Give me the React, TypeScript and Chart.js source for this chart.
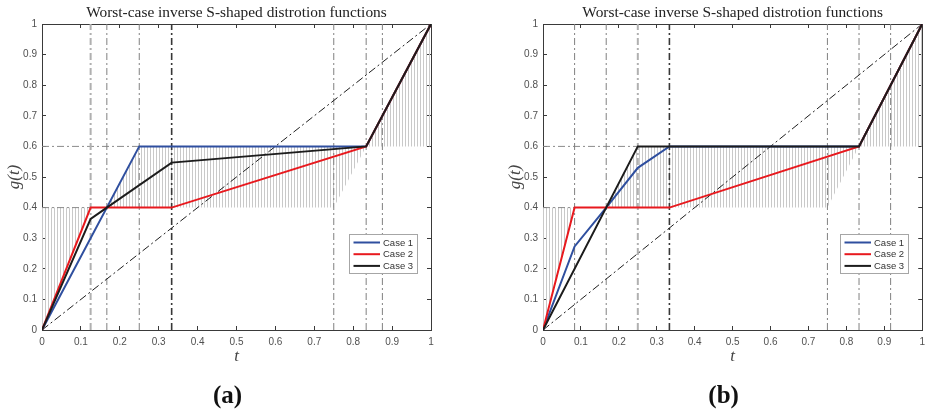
import React, { useEffect, useRef } from 'react';
import { Chart, registerables } from 'chart.js';

Chart.register(...registerables);

type Pt = [number, number];

// ---------- text ----------
const TITLE = 'Worst-case inverse S-shaped distrotion functions';
const X_LABEL = 't';
const Y_LABEL = 'g(t)';
const PANEL_LETTERS = ['(a)', '(b)'];
const CASE_LABELS = ['Case 1', 'Case 2', 'Case 3'];

// ---------- ticks ----------
const TICK_VALUES = [0, 0.1, 0.2, 0.3, 0.4, 0.5, 0.6, 0.7, 0.8, 0.9, 1];
const TICK_LABELS = ['0', '0.1', '0.2', '0.3', '0.4', '0.5', '0.6', '0.7', '0.8', '0.9', '1'];

// ---------- panel (a) ----------
const A_CASE1: Pt[] = [[0, 0], [0.25, 0.6], [5 / 6, 0.6], [1, 1]];
const A_CASE2: Pt[] = [[0, 0], [0.125, 0.4], [1 / 3, 0.4], [5 / 6, 0.6], [1, 1]];
const A_CASE3: Pt[] = [[0, 0], [0.125, 0.363], [1 / 6, 0.4], [1 / 3, 0.547], [5 / 6, 0.6], [1, 1]];
const A_VLINES = [0.125, 1 / 6, 0.25, 1 / 3, 0.75, 5 / 6, 0.875];
const A_HLINES: Pt[] = [[0.4, 0.125], [0.6, 0.25]]; // [level, end t]
const A_HATCH_UPPER: Pt[][] = [
  [[0, 0.4], [0.125, 0.4]],
  [[1 / 6, 0.4], [0.25, 0.6], [5 / 6, 0.6]],
  [[5 / 6, 0.6], [1, 1]],
];
const A_HATCH_LOWER: Pt[][] = [
  [[0, 0], [0.125, 0.4]],
  [[1 / 6, 0.4], [0.75, 0.4], [5 / 6, 0.6]],
  [[5 / 6, 0.6], [1, 0.6]],
];

// ---------- panel (b) ----------
const B_CASE1: Pt[] = [[0, 0], [1 / 12, 0.273], [1 / 6, 0.4], [0.25, 0.53], [1 / 3, 0.6], [5 / 6, 0.6], [1, 1]];
const B_CASE2: Pt[] = [[0, 0], [1 / 12, 0.4], [1 / 3, 0.4], [5 / 6, 0.6], [1, 1]];
const B_CASE3: Pt[] = [[0, 0], [0.25, 0.6], [5 / 6, 0.6], [1, 1]];
const B_VLINES = [1 / 12, 1 / 6, 0.25, 1 / 3, 0.75, 5 / 6, 11 / 12];
const B_HLINES: Pt[] = [[0.4, 1 / 12], [0.6, 0.25]];
const B_HATCH_UPPER: Pt[][] = [
  [[0, 0.4], [1 / 12, 0.4]],
  [[1 / 6, 0.4], [0.25, 0.6], [5 / 6, 0.6]],
  [[5 / 6, 0.6], [1, 1]],
];
const B_HATCH_LOWER: Pt[][] = [
  [[0, 0], [1 / 12, 0.4]],
  [[1 / 6, 0.4], [0.75, 0.4], [5 / 6, 0.6]],
  [[5 / 6, 0.6], [1, 0.6]],
];

const DIAGONAL: Pt[] = [[0, 0], [1, 1]];

// ---------- styles ----------
const CASE_COLORS = ['#2f4f9f', '#e8191e', '#1c1c1c'];
const AXIS_COLOR = '#3a3a3a';
const TICK_COLOR = '#505050';
const HATCH_COLOR = '#c9c9c9';
const VSTYLE: Record<string, { color: string; width: number }> = {
  light: { color: '#b0b0b0', width: 2 },
  mid: { color: '#808080', width: 1 },
  dark: { color: '#383838', width: 1.6 },
};
const A_VSTYLE = ['light', 'mid', 'mid', 'dark', 'mid', 'mid', 'mid'];
const B_VSTYLE = ['mid', 'mid', 'light', 'dark', 'mid', 'mid', 'mid'];
const DASH_DOT = [7, 3, 2, 3];

interface Panel {
  cases: Pt[][];
  vlines: number[];
  vstyle: string[];
  hlines: Pt[];
  hatchUpper: Pt[][];
  hatchLower: Pt[][];
  letter: string;
  canvasWidth: number;
  leftW: number;
  rightW: number;
}

const PANELS: Panel[] = [
  {
    cases: [A_CASE1, A_CASE2, A_CASE3], vlines: A_VLINES, vstyle: A_VSTYLE, hlines: A_HLINES,
    hatchUpper: A_HATCH_UPPER, hatchLower: A_HATCH_LOWER, letter: PANEL_LETTERS[0],
    canvasWidth: 465, leftW: 42, rightW: 34,
  },
  {
    cases: [B_CASE1, B_CASE2, B_CASE3], vlines: B_VLINES, vstyle: B_VSTYLE, hlines: B_HLINES,
    hatchUpper: B_HATCH_UPPER, hatchLower: B_HATCH_LOWER, letter: PANEL_LETTERS[1],
    canvasWidth: 466, leftW: 78, rightW: 1,
  },
];

const CANVAS_H = 414;
const TOP_H = 24;
const BOTTOM_H = 84;

const toXY = (pts: Pt[]) => pts.map(([x, y]) => ({ x, y }));

function makePattern(): CanvasPattern | string {
  const c = document.createElement('canvas');
  c.width = 3;
  c.height = 4;
  const g = c.getContext('2d');
  if (!g) return HATCH_COLOR;
  g.fillStyle = HATCH_COLOR;
  g.fillRect(0, 0, 1, 4);
  const p = g.createPattern(c, 'repeat');
  return p || HATCH_COLOR;
}

function buildDatasets(p: Panel, pattern: CanvasPattern | string) {
  const ds: any[] = [];
  const base = { pointRadius: 0, pointHoverRadius: 0, tension: 0 };
  p.hatchLower.forEach((lower, i) => {
    const lowerIndex = ds.length;
    ds.push({ ...base, data: toXY(lower), borderWidth: 0, borderColor: 'rgba(0,0,0,0)', fill: false, order: 100 });
    ds.push({
      ...base, data: toXY(p.hatchUpper[i]), borderWidth: 0, borderColor: 'rgba(0,0,0,0)',
      fill: { target: lowerIndex }, backgroundColor: pattern, order: 100,
    });
  });
  p.hlines.forEach(([level, end]) => {
    ds.push({ ...base, data: toXY([[0, level], [end, level]]), borderColor: '#8a8a8a', borderWidth: 1, borderDash: DASH_DOT, fill: false, order: 60 });
  });
  p.vlines.forEach((t, i) => {
    const st = VSTYLE[p.vstyle[i]];
    ds.push({ ...base, data: toXY([[t, 0], [t, 1]]), borderColor: st.color, borderWidth: st.width, borderDash: DASH_DOT, fill: false, order: 55 });
  });
  ds.push({ ...base, data: toXY(DIAGONAL), borderColor: '#1e1e1e', borderWidth: 1, borderDash: [8, 3, 2, 3], fill: false, order: 50 });
  p.cases.forEach((pts, i) => {
    ds.push({ ...base, label: CASE_LABELS[i], data: toXY(pts), borderColor: CASE_COLORS[i], borderWidth: 2, fill: false, order: 3 - i });
  });
  return ds;
}

const decorPlugin = {
  id: 'decor',
  beforeDatasetsDraw(chart: any) {
    const { ctx, chartArea: ca, scales } = chart;
    const al = (v: number) => Math.round(v - 0.5) + 0.5;
    ctx.save();
    ctx.strokeStyle = AXIS_COLOR;
    ctx.lineWidth = 1;
    ctx.beginPath();
    const L = 4;
    for (const v of TICK_VALUES) {
      const px = al(scales.x.getPixelForValue(v));
      ctx.moveTo(px, ca.bottom);
      ctx.lineTo(px, ca.bottom - L);
      ctx.moveTo(px, ca.top);
      ctx.lineTo(px, ca.top + L);
      const py = al(scales.y.getPixelForValue(v));
      ctx.moveTo(ca.left, py);
      ctx.lineTo(ca.left + L, py);
      ctx.moveTo(ca.right, py);
      ctx.lineTo(ca.right - L, py);
    }
    ctx.stroke();
    ctx.restore();
  },
  afterDraw(chart: any, _args: any, opts: any) {
    const { ctx, chartArea: ca } = chart;
    const cx = (ca.left + ca.right) / 2;
    const cy = (ca.top + ca.bottom) / 2;
    ctx.save();
    // title
    ctx.fillStyle = '#222';
    ctx.textAlign = 'center';
    ctx.textBaseline = 'middle';
    ctx.font = '15.4px "Liberation Serif", serif';
    ctx.fillText(TITLE, cx, ca.top - 11.5);
    // x label
    ctx.font = 'italic 17px "Liberation Serif", serif';
    ctx.fillStyle = '#444';
    ctx.fillText(X_LABEL, cx, ca.bottom + 27);
    // y label
    ctx.save();
    ctx.translate(ca.left - 27.5, cy);
    ctx.rotate(-Math.PI / 2);
    ctx.fillText(Y_LABEL, 0, 0);
    ctx.restore();
    // panel letter
    ctx.fillStyle = '#111';
    ctx.font = 'bold 25px "Liberation Serif", serif';
    ctx.fillText(opts.letter, cx - 9, ca.bottom + 67);
    // legend
    const bw = 68, bh = 39;
    const bx = Math.round(ca.right - 14.5 - bw);
    const by = Math.round(ca.top + 210);
    ctx.fillStyle = '#ffffff';
    ctx.fillRect(bx, by, bw, bh);
    ctx.strokeStyle = '#a6a6a6';
    ctx.lineWidth = 1;
    ctx.strokeRect(bx + 0.5, by + 0.5, bw, bh);
    ctx.font = '9.5px "Liberation Sans", Arial, sans-serif';
    ctx.textAlign = 'left';
    CASE_LABELS.forEach((lab, i) => {
      const ry = by + 8.5 + i * 11.7;
      ctx.strokeStyle = CASE_COLORS[i];
      ctx.lineWidth = 2;
      ctx.beginPath();
      ctx.moveTo(bx + 4.5, ry);
      ctx.lineTo(bx + 31, ry);
      ctx.stroke();
      ctx.fillStyle = '#333';
      ctx.fillText(lab, bx + 34, ry + 0.5);
    });
    ctx.restore();
  },
};

function makeScale(axis: 'x' | 'y', position: string, showLabels: boolean, size: number) {
  return {
    type: 'linear',
    axis,
    position,
    min: 0,
    max: 1,
    afterBuildTicks: (s: any) => {
      s.ticks = TICK_VALUES.map((v) => ({ value: v }));
    },
    ticks: {
      display: showLabels,
      autoSkip: false,
      maxRotation: 0,
      padding: axis === 'x' ? 6 : 5,
      color: TICK_COLOR,
      font: { family: '"Liberation Sans", Arial, sans-serif', size: 10 },
      callback: (_v: any, i: number) => TICK_LABELS[i],
    },
    grid: { display: false, drawTicks: false, drawOnChartArea: false },
    border: { display: true, color: AXIS_COLOR, width: 1 },
    afterFit: (s: any) => {
      if (axis === 'x') s.height = size;
      else s.width = size;
    },
  };
}

function PanelChart({ panel, left }: { panel: Panel; left: number }) {
  const ref = useRef<HTMLCanvasElement | null>(null);
  useEffect(() => {
    if (!ref.current) return;
    const pattern = makePattern();
    const chart = new Chart(ref.current, {
      type: 'line',
      data: { datasets: buildDatasets(panel, pattern) },
      options: {
        responsive: false,
        animation: false,
        devicePixelRatio: 1,
        layout: { padding: 0 },
        events: [],
        plugins: {
          legend: { display: false },
          tooltip: { enabled: false },
          title: { display: false },
          decor: { letter: panel.letter },
        } as any,
        scales: {
          x: makeScale('x', 'bottom', true, BOTTOM_H),
          x2: makeScale('x', 'top', false, TOP_H),
          y: makeScale('y', 'left', true, panel.leftW),
          y2: makeScale('y', 'right', false, panel.rightW),
        } as any,
      },
      plugins: [decorPlugin as any],
    });
    return () => chart.destroy();
  }, [panel]);
  return (
    <canvas
      ref={ref}
      width={panel.canvasWidth}
      height={CANVAS_H}
      style={{ position: 'absolute', left, top: 0, width: panel.canvasWidth, height: CANVAS_H, display: 'block' }}
    />
  );
}

export default function App() {
  return (
    <div style={{ position: 'absolute', left: 0, top: 0, width: 931, height: 414, background: '#ffffff', overflow: 'hidden' }}>
      <PanelChart panel={PANELS[0]} left={0} />
      <PanelChart panel={PANELS[1]} left={465} />
    </div>
  );
}
